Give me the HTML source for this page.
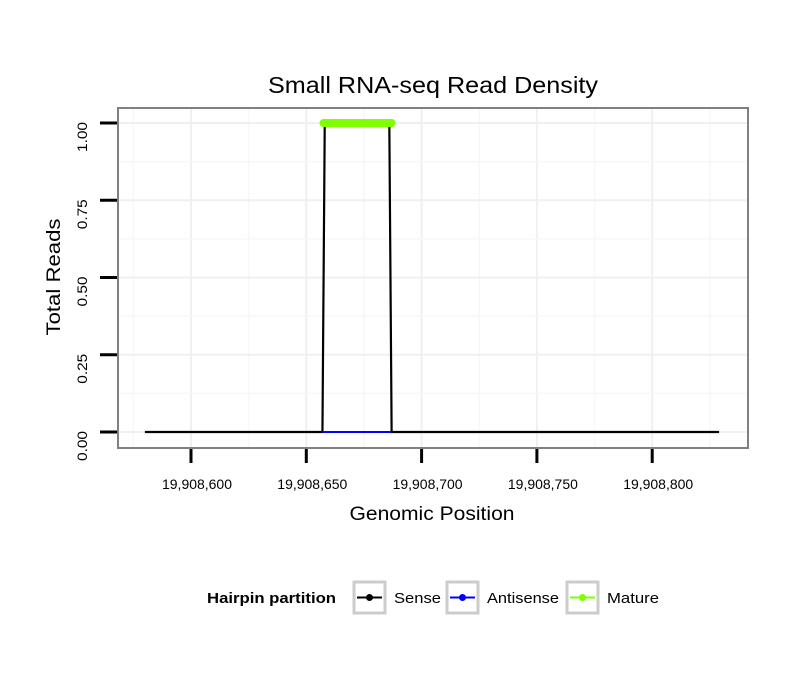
<!DOCTYPE html>
<html><head><meta charset="utf-8"><style>
body{margin:0;background:#fff;font-family:"Liberation Sans",sans-serif}
</style></head><body>
<svg id="c" width="810" height="690" xmlns="http://www.w3.org/2000/svg"></svg>
<script>
const xTicks=[19908600,19908650,19908700,19908750,19908800];
const xTickLabels=["19,908,600","19,908,650","19,908,700","19,908,750","19,908,800"];
const yTicks=[0,0.25,0.5,0.75,1];
const yTickLabels=["0.00","0.25","0.50","0.75","1.00"];
const senseX=[19908580,19908657,19908658,19908686,19908687,19908829];
const senseY=[0,0,1,1,0,0];
const antisenseX=[19908657,19908687];
const antisenseY=[0,0];
const matureX=[19908657.5,19908687];
const matureY=[1,1];
const NS="http://www.w3.org/2000/svg";
const svg=document.getElementById('c');
const X=v=>191+(v-19908600)*2.306;
const Y=v=>432-v*309;
function el(t,a,p){const e=document.createElementNS(NS,t);for(const k in a)e.setAttribute(k,a[k]);(p||svg).appendChild(e);return e;}
const title=el('text',{x:433,y:93,'text-anchor':'middle','font-size':23,fill:'#000',textLength:330,lengthAdjust:'spacingAndGlyphs'});title.textContent='Small RNA-seq Read Density';


const panel=el('rect',{x:118,y:108,width:630,height:340,fill:'#fff'});


for(let i=0;i<xTicks.length;i++){
  el('line',{x1:X(xTicks[i]),x2:X(xTicks[i]),y1:108,y2:448,stroke:'#f0f0f0','stroke-width':2});
}
for(let i=-1;i<xTicks.length;i++){
  const v=xTicks[0]+(i+0.5)*50;if(X(v)<118||X(v)>748)continue;
  el('line',{x1:X(v),x2:X(v),y1:108,y2:448,stroke:'#f7f7f7','stroke-width':1.5});
}
for(let i=0;i<yTicks.length;i++){
  el('line',{x1:118,x2:748,y1:Y(yTicks[i]),y2:Y(yTicks[i]),stroke:'#f0f0f0','stroke-width':2});
  if(i<yTicks.length-1){const m=(yTicks[i]+yTicks[i+1])/2;el('line',{x1:118,x2:748,y1:Y(m),y2:Y(m),stroke:'#f7f7f7','stroke-width':1.5});}
}
const sense=el('polyline',{points:senseX.map((v,i)=>X(v)+','+Y(senseY[i])).join(' '),fill:'none',stroke:'#000','stroke-width':2.2});


const anti=el('polyline',{points:antisenseX.map((v,i)=>X(v)+','+Y(antisenseY[i])).join(' '),fill:'none',stroke:'#0000ff','stroke-width':2});


const mat=el('polyline',{points:matureX.map((v,i)=>X(v)+','+Y(matureY[i])).join(' '),fill:'none',stroke:'#7fff00','stroke-width':8,'stroke-linecap':'round'});


el('rect',{x:118,y:108,width:630,height:340,fill:'none',stroke:'#808080','stroke-width':2});
xTicks.forEach((v,i)=>{
  el('line',{x1:X(v),x2:X(v),y1:449,y2:463,stroke:'#000','stroke-width':3});
  const t=el('text',{x:X(v)+6,y:489,'text-anchor':'middle','font-size':14,fill:'#000',textLength:70,lengthAdjust:'spacingAndGlyphs'});t.textContent=xTickLabels[i];
  
  
});
yTicks.forEach((v,i)=>{
  el('line',{x1:100,x2:117,y1:Y(v),y2:Y(v),stroke:'#000','stroke-width':3});
  const t=el('text',{x:0,y:0,'text-anchor':'middle','font-size':14,fill:'#000',transform:`translate(87,${Y(v)+14}) rotate(-90)`,textLength:30,lengthAdjust:'spacingAndGlyphs'});t.textContent=yTickLabels[i];
  
  
});
const xt=el('text',{x:432,y:520,'text-anchor':'middle','font-size':19,fill:'#000',textLength:165,lengthAdjust:'spacingAndGlyphs'});xt.textContent='Genomic Position';


const yt=el('text',{x:0,y:0,'text-anchor':'middle','font-size':19,fill:'#000',transform:'translate(60,277) rotate(-90)',textLength:117,lengthAdjust:'spacingAndGlyphs'});yt.textContent='Total Reads';


const lt=el('text',{x:207,y:603,'font-size':15,'font-weight':'bold',fill:'#000',textLength:129,lengthAdjust:'spacingAndGlyphs'});lt.textContent='Hairpin partition';


const leg=[['Sense','#000',354,47],['Antisense','#0000ff',447,72],['Mature','#7fff00',567,52]];
leg.forEach(([n,c,x,w])=>{
  const g=el('g',{});
  
  
  el('rect',{x:x,y:582,width:31,height:31,fill:'#fff',stroke:'#cccccc','stroke-width':3},g);
  el('line',{x1:x+3,x2:x+28,y1:597.5,y2:597.5,stroke:c,'stroke-width':2},g);
  el('circle',{cx:x+15.5,cy:597.5,r:3.5,fill:c},g);
  const t=el('text',{x:x+40,y:603,'font-size':15,fill:'#000',textLength:w,lengthAdjust:'spacingAndGlyphs'},g);t.textContent=n;
});
</script>
</body></html>
